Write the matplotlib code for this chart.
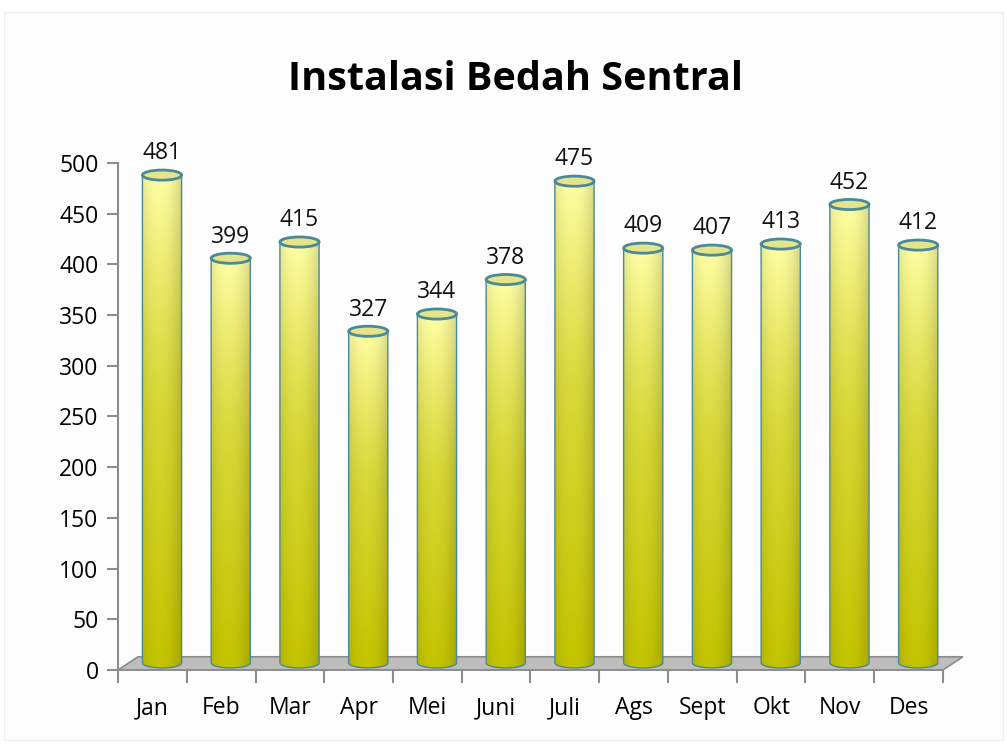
import numpy as np
import matplotlib
matplotlib.use("Agg")
import matplotlib.pyplot as plt
from matplotlib.patches import Ellipse, Polygon, Rectangle

plt.rcParams['font.family'] = ['Open Sans', 'DejaVu Sans']

# data
months = ['Jan', 'Feb', 'Mar', 'Apr', 'Mei', 'Juni', 'Juli', 'Ags', 'Sept', 'Okt', 'Nov', 'Des']
values = [481, 399, 415, 327, 344, 378, 475, 409, 407, 413, 452, 412]
title = 'Instalasi Bedah Sentral'

# 3d look
bar_w = 0.57      # bar width in category units
shift_x = 0.14    # depth shift of bars (categories)
shift_y = 7       # depth shift of bars (value units)
cap_h = 10        # ellipse height (value units)
floor_dx = 0.29
floor_dy = 13

light = np.array([255, 255, 165]) / 255
mid = np.array([214, 214, 50]) / 255
dark = np.array([196, 196, 0]) / 255
edge = '#4a8a98'

fig = plt.figure(figsize=(10.07, 7.44), dpi=100)
fig.patch.set_facecolor('white')
fig.patches.append(Rectangle((0.004, 0.006), 0.992, 0.978, transform=fig.transFigure,
                             facecolor='#fdfdfd', edgecolor='#eeeeee', lw=1, zorder=-5))

ax = fig.add_axes([0.1172, 0.0995, 0.8192, 0.6815])
ax.set_facecolor('none')

# floor
floor = Polygon([(0, 0), (len(months), 0), (len(months) + floor_dx, floor_dy), (floor_dx, floor_dy)],
                closed=True, facecolor='#bdbdbd', edgecolor='#8c8c8c', lw=1.2, clip_on=False, zorder=1)
ax.add_patch(floor)


def bar_image(n=200):
    t = np.linspace(0, 1, n)[:, None]
    lo = dark + (mid - dark) * np.clip(t / 0.5, 0, 1)
    hi = mid + (light - mid) * np.clip((t - 0.5) / 0.5, 0, 1) ** 1.3
    col = np.where(t < 0.5, lo, hi)          # (n, 3)
    s = np.linspace(-1, 1, 60)
    shade = 1 - 0.12 * (s + 0.15) ** 2
    img = col[:, None, :] * shade[None, :, None]
    return np.clip(img[::-1], 0, 1)


img = bar_image()
for i, v in enumerate(values):
    cx = i + 0.5 + shift_x
    x0, x1 = cx - bar_w / 2, cx + bar_w / 2
    yb, yt = shift_y, v + shift_y
    # body outline: rectangle with rounded bottom
    th = np.linspace(np.pi, 2 * np.pi, 40)
    bottom = np.column_stack([cx + bar_w / 2 * np.cos(th), yb + cap_h / 2 * np.sin(th)])
    verts = np.vstack([[[x0, yt]], bottom, [[x1, yt]], [[x0, yt]]])
    body = Polygon(verts, closed=True, facecolor='none', edgecolor=edge, lw=1.0, zorder=3, clip_on=False)
    ax.add_patch(body)
    im = ax.imshow(img, extent=[x0, x1, yb - cap_h / 2, yt], aspect='auto', zorder=2,
                   interpolation='bilinear')
    im.set_clip_path(body)
    cap = Ellipse((cx, yt), bar_w, cap_h, facecolor='#e4e48a', edgecolor=edge, lw=2.0,
                  zorder=4, clip_on=False)
    ax.add_patch(cap)
    ax.annotate(str(v), (cx, yt), xytext=(0, 7), textcoords='offset points',
                ha='center', va='bottom', fontsize=16.5, color='#111111', annotation_clip=False)

ax.set_xlim(0, len(months))
ax.set_ylim(0, 500)

ax.set_yticks(np.arange(0, 501, 50))
ax.set_xticks(np.arange(len(months) + 1), minor=False)
ax.set_xticklabels([])
ax.set_xticks(np.arange(len(months)) + 0.5, minor=True)
ax.set_xticklabels(months, minor=True)
ax.tick_params(axis='x', which='minor', length=0, pad=19, labelsize=16.5)
ax.tick_params(axis='x', which='major', length=9, width=1.5, color='#8c8c8c')
ax.tick_params(axis='y', length=8, width=1.5, color='#8c8c8c', labelsize=16.5, pad=6)

for s in ['top', 'right']:
    ax.spines[s].set_visible(False)
ax.spines['left'].set_color('#8c8c8c')
ax.spines['left'].set_linewidth(1.5)
ax.spines['bottom'].set_color('#8c8c8c')
ax.spines['bottom'].set_linewidth(1.2)

fig.text(0.512, 0.893, title, ha='center', va='center', fontsize=28.5, fontweight='bold')

fig.savefig('out.png', dpi=100)
